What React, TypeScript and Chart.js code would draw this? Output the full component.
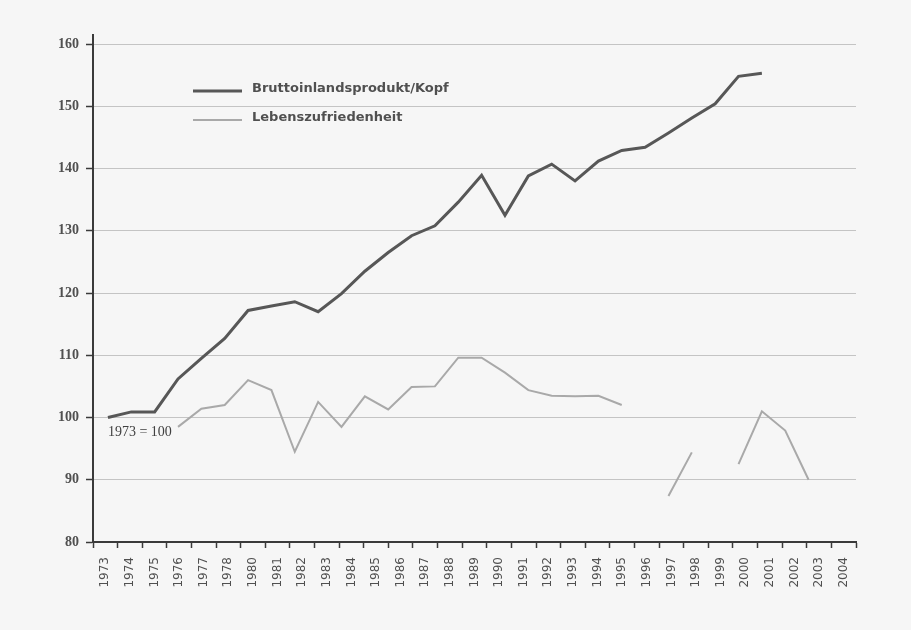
import React, { useEffect, useRef } from "react";
import { Chart, registerables } from "chart.js";

Chart.register(...registerables);

// Real data years (continuous); the printed axis labels skip 1979
const years = [
  1973, 1974, 1975, 1976, 1977, 1978, 1979, 1980, 1981, 1982, 1983, 1984, 1985, 1986, 1987, 1988,
  1989, 1990, 1991, 1992, 1993, 1994, 1995, 1996, 1997, 1998, 1999, 2000, 2001, 2002, 2003, 2004,
];

const tickLabels = [
  "1973", "1974", "1975", "1976", "1977", "1978", "1980", "1981", "1982", "1983", "1984", "1985",
  "1986", "1987", "1988", "1989", "1990", "1991", "1992", "1993", "1994", "1995", "1996", "1997",
  "1998", "1999", "2000", "2001", "2002", "2003", "2004",
];

const gdpPerCapita = [
  100.0, 100.9, 100.9, 106.2, 109.5, 112.7, 117.2, 117.9, 118.6, 117.0, 119.9, 123.5, 126.5, 129.2,
  130.8, 134.6, 138.9, 132.5, 138.8, 140.7, 138.0, 141.2, 142.9, 143.4, 145.7, 148.1, 150.4, 154.8,
  155.3, null, null, null,
];

const lifeSatisfaction = [
  null, null, null, 98.5, 101.4, 102.0, 106.0, 104.4, 94.5, 102.5, 98.5, 103.4, 101.3, 104.9, 105.0,
  109.6, 109.6, 107.2, 104.4, 103.5, 103.4, 103.5, 102.0, null, 87.4, 94.4, null, 92.5, 101.0, 97.9,
  90.0, null,
];

const seriesNames = ["Bruttoinlandsprodukt/Kopf", "Lebenszufriedenheit"];
const baseNote = "1973 = 100";
const baseNoteValue = 97.6;

const axisColor = "#3a3a3a";
const textColor = "#505050";

const overlayPlugin = {
  id: "overlay",
  afterDraw(chart: any) {
    const { ctx, chartArea: a, scales } = chart;
    ctx.save();
    // y axis continues a little above the top gridline
    ctx.strokeStyle = axisColor;
    ctx.lineWidth = 2;
    ctx.beginPath();
    ctx.moveTo(a.left, a.top - 10);
    ctx.lineTo(a.left, a.top);
    ctx.stroke();

    // legend inside plot area
    chart.data.datasets.forEach((ds: any, i: number) => {
      const y = a.top + 47 + i * 29;
      ctx.strokeStyle = ds.borderColor;
      ctx.lineWidth = ds.borderWidth;
      ctx.beginPath();
      ctx.moveTo(a.left + 100, y);
      ctx.lineTo(a.left + 149, y);
      ctx.stroke();
      ctx.fillStyle = textColor;
      ctx.font = 'bold 13px "DejaVu Sans"';
      ctx.textAlign = "left";
      ctx.textBaseline = "middle";
      ctx.fillText(ds.label, a.left + 159, y - 2);
    });

    // base-year note
    const xs = scales.xData;
    const ys = scales.y;
    ctx.fillStyle = "#404040";
    ctx.font = '14px "Liberation Serif"';
    ctx.textAlign = "left";
    ctx.textBaseline = "middle";
    ctx.fillText(baseNote, xs.getPixelForValue(years[0]), ys.getPixelForValue(baseNoteValue));
    ctx.restore();
  },
};

export default function App() {
  const canvasRef = useRef<HTMLCanvasElement | null>(null);

  useEffect(() => {
    if (!canvasRef.current) return;
    const chart = new Chart(canvasRef.current, {
      type: "line",
      data: {
        datasets: [
          {
            label: seriesNames[0],
            data: years.map((yr, i) => ({ x: yr, y: gdpPerCapita[i] })) as any,
            xAxisID: "xData",
            yAxisID: "y",
            borderColor: "#575757",
            borderWidth: 3,
            pointRadius: 0,
            tension: 0,
            spanGaps: false,
          },
          {
            label: seriesNames[1],
            data: years.map((yr, i) => ({ x: yr, y: lifeSatisfaction[i] })) as any,
            xAxisID: "xData",
            yAxisID: "y",
            borderColor: "#a9a9a9",
            borderWidth: 2,
            pointRadius: 0,
            tension: 0,
            spanGaps: false,
          },
        ],
      },
      options: {
        animation: false,
        responsive: false,
        maintainAspectRatio: false,
        layout: { padding: { left: 0, top: 44, right: 55, bottom: 0 } },
        plugins: {
          legend: { display: false },
          tooltip: { enabled: false },
        },
        scales: {
          x: {
            type: "category",
            labels: tickLabels,
            offset: true,
            border: { display: true, color: axisColor, width: 2 },
            grid: {
              offset: true,
              drawOnChartArea: false,
              drawTicks: true,
              tickLength: 6,
              tickColor: axisColor,
              tickWidth: 1.5,
            },
            ticks: {
              autoSkip: false,
              maxRotation: 90,
              minRotation: 90,
              padding: 9,
              color: textColor,
              font: { family: "DejaVu Sans", size: 12 },
            },
            afterFit: (s: any) => {
              s.height = 88;
            },
          },
          xData: {
            type: "linear",
            display: false,
            min: 1972.36,
            max: 2005.03,
          },
          y: {
            min: 80,
            max: 160,
            border: { display: true, color: axisColor, width: 2 },
            grid: {
              color: "#c4c4c4",
              lineWidth: 1,
              tickColor: axisColor,
              tickLength: 7,
              tickWidth: 1.5,
            },
            ticks: {
              stepSize: 10,
              padding: 7,
              color: textColor,
              font: { family: "Liberation Serif", size: 14, weight: "bold" },
            },
            afterFit: (s: any) => {
              s.width = 93;
            },
          },
        },
      },
      plugins: [overlayPlugin],
    });
    return () => chart.destroy();
  }, []);

  return (
    <div
      style={{
        position: "fixed",
        left: 0,
        top: 0,
        width: 911,
        height: 630,
        background: "#f6f6f6",
      }}
    >
      <canvas ref={canvasRef} width={911} height={630} style={{ display: "block" }} />
    </div>
  );
}
